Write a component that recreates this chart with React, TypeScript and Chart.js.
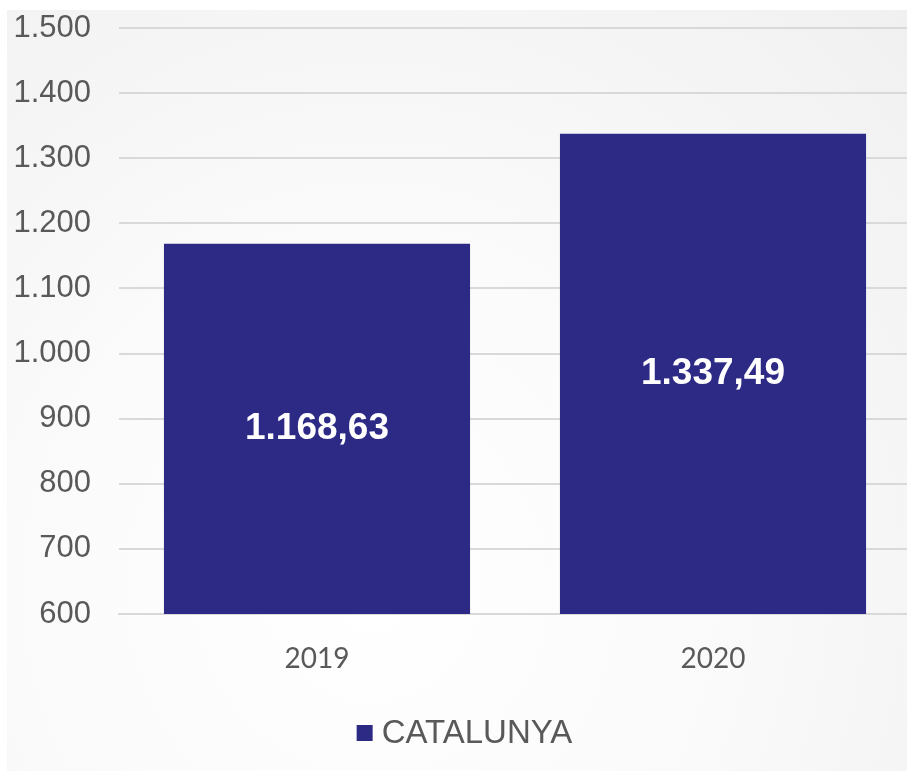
import React, { useEffect, useRef } from "react";
import { Chart, registerables } from "chart.js";

Chart.register(...registerables);

const categories = ["2019", "2020"];
const seriesName = "CATALUNYA";
const values = [1168.63, 1337.49];
const valueLabels = ["1.168,63", "1.337,49"];
const yMin = 600;
const yMax = 1500;
const yStep = 100;

const barColor = "#2D2A86";
const textColor = "#595959";
const sans = "'Liberation Sans', Arial, sans-serif";

const fmtThousands = (v: number) => {
  const s = Math.round(v).toString();
  return s.replace(/\B(?=(\d{3})+(?!\d))/g, ".");
};

const labelPlugin = {
  id: "barLabels",
  afterDatasetsDraw(chart: any) {
    const ctx = chart.ctx;
    const meta = chart.getDatasetMeta(0);
    const bottom = chart.chartArea.bottom;
    ctx.save();
    ctx.fillStyle = "#ffffff";
    ctx.font = `bold 37px ${sans}`;
    ctx.textAlign = "center";
    ctx.textBaseline = "middle";
    meta.data.forEach((el: any, i: number) => {
      const base = Math.min(el.base, bottom);
      const y = (el.y + base) / 2;
      ctx.fillText(valueLabels[i], el.x, y);
    });
    ctx.restore();
  },
};

const legendPlugin = {
  id: "customLegend",
  afterDraw(chart: any) {
    const ctx = chart.ctx;
    ctx.save();
    ctx.font = `33px ${sans}`;
    const text = chart.data.datasets[0].label;
    const tw = ctx.measureText(text).width;
    const box = 16;
    const gap = 9;
    const total = box + gap + tw;
    const cx = chart.width / 2 + 9;
    const cy = chart.height - 38;
    const x0 = cx - total / 2;
    ctx.fillStyle = barColor;
    ctx.fillRect(x0, cy - box / 2, box, box);
    ctx.fillStyle = textColor;
    ctx.textAlign = "left";
    ctx.textBaseline = "middle";
    ctx.fillText(text, x0 + box + gap, cy + 1);
    ctx.restore();
  },
};

export default function App() {
  const ref = useRef<HTMLCanvasElement | null>(null);
  useEffect(() => {
    if (!ref.current) return;
    const chart = new Chart(ref.current, {
      type: "bar",
      data: {
        labels: categories,
        datasets: [
          {
            label: seriesName,
            data: values,
            backgroundColor: barColor,
            borderWidth: 0,
            barPercentage: 0.773,
            categoryPercentage: 1,
          },
        ],
      },
      options: {
        responsive: false,
        animation: false,
        devicePixelRatio: 1,
        layout: { padding: { top: 28, left: 0, right: 0, bottom: 65 } },
        plugins: {
          tooltip: { enabled: false },
          legend: { display: false },
        },
        scales: {
          x: {
            grid: { display: false, drawTicks: false },
            border: { display: true, color: "#D9D9D9", width: 2 },
            ticks: {
              color: textColor,
              font: { family: "Lato, sans-serif", size: 28 },
              padding: 28,
            },
            afterFit(scale: any) {
              scale.height = 92;
              scale.paddingLeft = 0;
              scale.paddingRight = 0;
            },
          },
          y: {
            min: yMin,
            max: yMax,
            ticks: {
              stepSize: yStep,
              color: textColor,
              font: { family: sans, size: 31 },
              padding: 28,
              callback: (v: any) => fmtThousands(Number(v)),
            },
            grid: { color: "#D9D9D9", lineWidth: 2, drawTicks: false },
            border: { display: false },
            afterFit(scale: any) {
              scale.width = 119;
              scale.paddingTop = 0;
              scale.paddingBottom = 0;
            },
          },
        },
      },
      plugins: [labelPlugin, legendPlugin],
    });
    return () => chart.destroy();
  }, []);

  return (
    <div
      style={{
        position: "fixed",
        left: 0,
        top: 0,
        width: 907,
        height: 771,
        overflow: "hidden",
        background: "#ffffff",
      }}
    >
      <div
        style={{
          position: "absolute",
          left: 7,
          top: 10,
          width: 910,
          height: 770,
          background:
            "radial-gradient(ellipse at 40% 75%, #ffffff 0%, #fbfbfb 40%, #f0f0f0 100%)",
        }}
      />
      <canvas
        ref={ref}
        width={911}
        height={771}
        style={{ position: "absolute", left: 0, top: 0, width: 911, height: 771 }}
      />
    </div>
  );
}
